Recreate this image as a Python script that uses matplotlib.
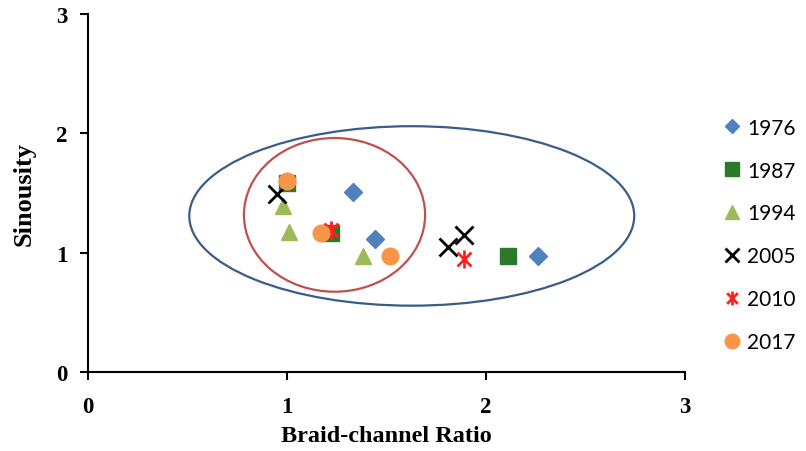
import matplotlib
matplotlib.use('Agg')
import matplotlib.pyplot as plt
from matplotlib.patches import Ellipse
from matplotlib.path import Path
from matplotlib.lines import Line2D

# braid-channel ratio (x) and sinuosity (y) per survey year
years = ['1976', '1987', '1994', '2005', '2010', '2017']
x_1976 = [1.33, 1.44, 2.26]
y_1976 = [1.51, 1.11, 0.97]
x_1987 = [1.00, 1.22, 2.11]
y_1987 = [1.58, 1.16, 0.97]
x_1994 = [0.98, 1.01, 1.38]
y_1994 = [1.39, 1.17, 0.97]
x_2005 = [0.95, 1.81, 1.89]
y_2005 = [1.49, 1.05, 1.15]
x_2010 = [1.22, 1.89]
y_2010 = [1.19, 0.95]
x_2017 = [1.00, 1.17, 1.52]
y_2017 = [1.60, 1.16, 0.97]
axis_ticks = [0, 1, 2, 3]

# asterisk marker like Excel's star: an X with a vertical bar
star = Path([(-1, -1), (1, 1), (-1, 1), (1, -1), (0, -1.3), (0, 1.3)],
            [Path.MOVETO, Path.LINETO, Path.MOVETO, Path.LINETO, Path.MOVETO, Path.LINETO])

styles = {
    '1976': dict(marker='D', ms=9, mfc='#4F81BD', mec='#4F81BD'),
    '1987': dict(marker='s', ms=12, mfc='#2B7A2B', mec='#2B7A2B'),
    '1994': dict(marker='^', ms=12, mfc='#9BBB59', mec='#9BBB59'),
    '2005': dict(marker='x', ms=13, mec='black', mew=2),
    '2010': dict(marker=star, ms=13, mfc='none', mec='#FF2020', mew=2),
    '2017': dict(marker='o', ms=12, mfc='#F79646', mec='#F79646'),
}
legend_styles = {
    '1976': dict(marker='D', ms=7.5, mfc='#4F81BD', mec='#4F81BD'),
    '1987': dict(marker='s', ms=10, mfc='#2B7A2B', mec='#2B7A2B'),
    '1994': dict(marker='^', ms=10, mfc='#9BBB59', mec='#9BBB59'),
    '2005': dict(marker='x', ms=10, mec='black', mew=2),
    '2010': dict(marker=star, ms=10, mfc='none', mec='#FF2020', mew=2),
    '2017': dict(marker='o', ms=10.5, mfc='#F79646', mec='#F79646'),
}
series = {
    '1976': (x_1976, y_1976), '1987': (x_1987, y_1987), '1994': (x_1994, y_1994),
    '2005': (x_2005, y_2005), '2010': (x_2010, y_2010), '2017': (x_2017, y_2017),
}

fig = plt.figure(figsize=(8.06, 4.52), dpi=100)
ax = fig.add_axes([0.109, 0.175, 0.741, 0.792])

handles = []
for yr in years:
    xs, ys = series[yr]
    ax.plot(xs, ys, linestyle='none', clip_on=False, **styles[yr])
    handles.append(Line2D([], [], linestyle='none', **legend_styles[yr]))

# grouping ellipses drawn over the scatter
ax.add_patch(Ellipse((1.627, 1.307), 2.235, 1.504, fill=False,
                     edgecolor='#385D8A', lw=1.6))
ax.add_patch(Ellipse((1.239, 1.316), 0.91, 1.288, fill=False,
                     edgecolor='#C0504D', lw=1.6))

ax.set_xlim(0, 3)
ax.set_ylim(0, 3)
ax.set_xticks(axis_ticks)
ax.set_yticks(axis_ticks)
for s in ['top', 'right']:
    ax.spines[s].set_visible(False)
for s in ['left', 'bottom']:
    ax.spines[s].set_linewidth(1.5)
ax.tick_params(width=1.5, length=6, labelsize=16.5)
ax.tick_params(axis='x', pad=11)
ax.tick_params(axis='y', pad=9)
for lab in ax.get_xticklabels() + ax.get_yticklabels():
    lab.set_fontfamily('Liberation Serif')
    lab.set_fontweight('bold')

ax.set_xlabel('Braid-channel Ratio', fontfamily='Liberation Serif',
              fontweight='bold', fontsize=17.5, labelpad=6)
ax.set_ylabel('Sinousity', fontfamily='Liberation Serif',
              fontweight='bold', fontsize=19, labelpad=14)

fig.legend(handles, years, loc='center left', bbox_to_anchor=(0.888, 0.478),
           frameon=False, prop={'family': 'Lato', 'size': 15},
           handlelength=0.8, handletextpad=0.3, labelspacing=1.1,
           borderaxespad=0)

fig.savefig('out.png', dpi=100)
